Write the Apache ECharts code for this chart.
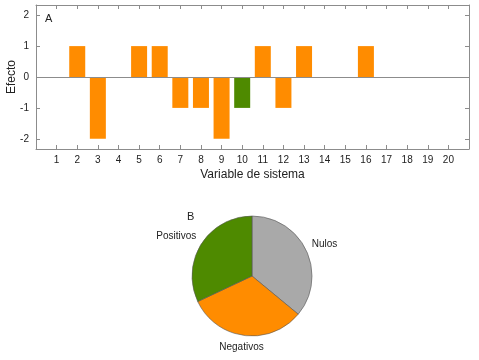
<!DOCTYPE html>
<html>
<head>
<meta charset="utf-8">
<script src="https://cdn.jsdelivr.net/npm/echarts@6/dist/echarts.min.js"></script>
<style>
  html, body { margin: 0; padding: 0; background: #fff; }
  #chart { width: 479px; height: 360px; }
</style>
</head>
<body>
<div id="chart"></div>
<script>
// variables 1..20 and their effect
const variables = [1, 2, 3, 4, 5, 6, 7, 8, 9, 10, 11, 12, 13, 14, 15, 16, 17, 18, 19, 20];
const efecto = [0, 1, -2, 0, 1, 1, -1, -1, -2, -1, 1, -1, 1, 0, 0, 1, 0, 0, 0, 0];
const greenVariables = [10];
const yTicks = [-2, -1, 0, 1, 2];

// pie shares
const pieNames = ["Nulos", "Negativos", "Positivos"];
const pieValues = [36, 32, 32];

const ORANGE = "#ff8c00";
const GREEN = "#4e8a00";
const GREY = "#a9a9a9";
const FONT = "Liberation Sans";

let myChart = echarts.init(document.getElementById("chart"));

const barData = variables.map((v, i) => {
  const item = { value: [v, efecto[i]] };
  if (greenVariables.includes(v)) item.itemStyle = { color: GREEN };
  return item;
});

const axisCommon = {
  axisLine: { onZero: false, lineStyle: { color: "#8c8c8c", width: 1 } },
  axisTick: { inside: true, length: 4, lineStyle: { color: "#8c8c8c" } },
  splitLine: { show: false },
};

// nudges for the pie labels so they sit like the original
const labelShift = [
  { dx: -5, dy: -4 },
  { dx: 25, dy: 6 },
  { dx: 5, dy: -4 },
];

myChart.setOption({
  animation: false,
  textStyle: { fontFamily: FONT },
  title: [
    { text: "A", left: 40, top: 8, textStyle: { fontSize: 11, fontWeight: "normal", color: "#222" } },
    { text: "B", left: 182, top: 206, textStyle: { fontSize: 11, fontWeight: "normal", color: "#222" } },
  ],
  // y axis title, drawn by hand because the axis name got pushed away from the labels
  graphic: [
    {
      type: "text",
      x: 12,
      y: 77,
      rotation: Math.PI / 2,
      style: {
        text: "Efecto",
        align: "center",
        verticalAlign: "middle",
        fontSize: 12,
        fontFamily: FONT,
        fill: "#222",
      },
    },
  ],
  grid: { left: 36, right: 10, top: 5, height: 144, containLabel: false, outerBoundsMode: "none" },
  xAxis: [
    {
      type: "value",
      min: 0,
      max: 21,
      interval: 1,
      name: "Variable de sistema",
      nameLocation: "middle",
      nameGap: 20,
      nameTextStyle: { fontSize: 12, color: "#222" },
      ...axisCommon,
      axisLabel: {
        fontSize: 10,
        color: "#222",
        margin: 6,
        formatter: (v) => (v >= 1 && v <= 20 ? String(v) : ""),
      },
    },
    {
      type: "value",
      position: "top",
      min: 0,
      max: 21,
      interval: 1,
      ...axisCommon,
      axisLabel: { show: false },
    },
  ],
  yAxis: [
    {
      type: "value",
      min: -2.33,
      max: 2.33,
      ...axisCommon,
      axisTick: { ...axisCommon.axisTick, customValues: yTicks },
      axisLabel: { fontSize: 10, color: "#222", margin: 7, customValues: yTicks },
    },
    {
      type: "value",
      position: "right",
      min: -2.33,
      max: 2.33,
      ...axisCommon,
      axisTick: { ...axisCommon.axisTick, customValues: yTicks },
      axisLabel: { show: false },
    },
  ],
  series: [
    {
      type: "bar",
      xAxisIndex: 0,
      yAxisIndex: 0,
      barWidth: 16,
      itemStyle: { color: ORANGE },
      data: barData,
      markLine: {
        silent: true,
        symbol: "none",
        label: { show: false },
        lineStyle: { color: "#8c8c8c", type: "solid", width: 1 },
        data: [{ yAxis: 0 }],
      },
    },
    {
      type: "pie",
      center: [252, 276],
      radius: 60,
      startAngle: 90,
      clockwise: true,
      itemStyle: { borderColor: "#555", borderWidth: 0.6 },
      label: { position: "outside", fontSize: 10, color: "#222" },
      labelLine: { show: false, length: 6, length2: 0 },
      labelLayout: (params) => labelShift[params.dataIndex],
      data: pieNames.map((n, i) => ({
        name: n,
        value: pieValues[i],
        itemStyle: { color: [GREY, ORANGE, GREEN][i] },
      })),
    },
  ],
});
</script>
</body>
</html>
